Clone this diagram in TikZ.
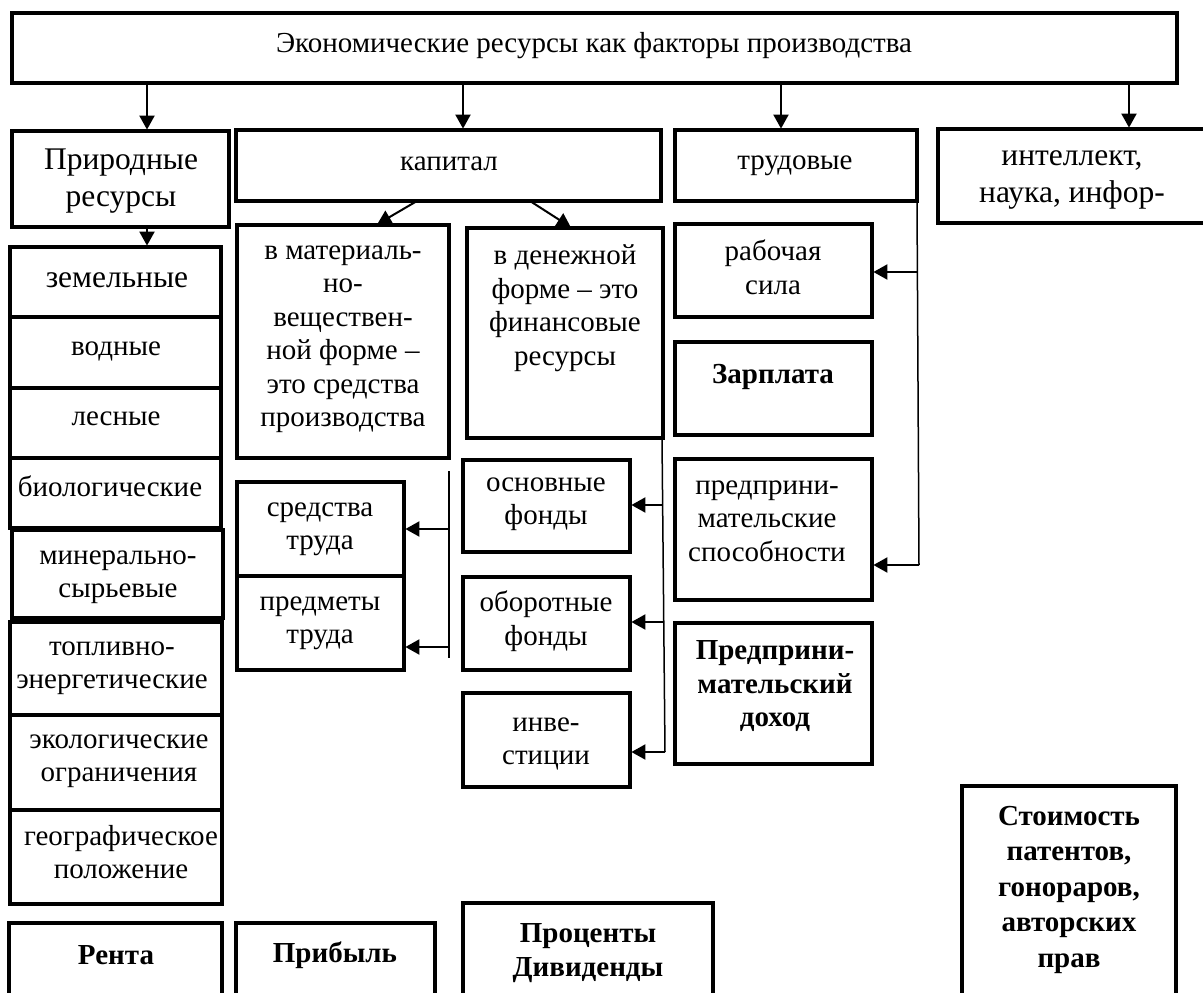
\documentclass[tikz,border=0pt]{standalone}
\usepackage{fontspec}
\setmainfont{Liberation Serif}
\usetikzlibrary{arrows.meta}
\newcommand\fa{\fontsize{29}{33.5}\selectfont}
\newcommand\fb{\fontsize{31.5}{37}\selectfont}
\newcommand\fc{\fontsize{29}{35.5}\selectfont}
\newcommand\brk{\\\strut}
\newcommand\bx[5]{\node[box, minimum width={#4-#2}, minimum height={#5-#3}] (#1) at ({(#2+#4)/2},{(#3+#5)/2}) {};}
\newcommand\tx[4][]{\node[txt,#1] (#2) at (#3) {#4};}
\tikzset{
  box/.style={draw, line width=3.8pt, inner sep=0pt, outer sep=0pt},
  txt/.style={align=center, font=\fa, inner sep=0pt, execute at begin node=\strut},
  bold/.style={font=\fa\bfseries},
  big/.style={font=\fb},
  arr/.style={line width=2pt, -{Triangle[length=14pt,width=15pt]}, shorten >=1.4pt},
  brl/.style={line width=1.5pt},
}
\begin{document}
\begin{tikzpicture}[x=1pt,y=-1pt]
\useasboundingbox (0,0) rectangle (1203,993);
\clip (0,0) rectangle (1203,993);
% boxes
\bx{title}{12}{13}{1177}{83}
\bx{prir}{12}{131}{229}{227}
\bx{kap}{236}{130}{661}{201}
\bx{trud}{675}{130}{917}{201}
\bx{intel}{938}{129}{1212}{223}
\bx{zem}{10}{247}{221}{317}
\bx{vod}{10}{317}{221}{388}
\bx{les}{10}{388}{221}{458}
\bx{bio}{10}{458}{221}{528}
\bx{min}{12}{530}{223}{618}
\bx{topl}{10}{622}{222}{715}
\bx{eco}{10}{715}{222}{810}
\bx{geo}{10}{810}{222}{904}
\bx{mat}{237}{225}{449}{458}
\bx{den}{467}{228}{663}{438}
\bx{rab}{675}{224}{872}{317}
\bx{zar}{675}{342}{872}{435}
\bx{spos}{675}{459}{872}{600}
\bx{pdoh}{675}{623}{872}{764}
\bx{sred}{237}{482}{404}{576}
\bx{pred}{237}{576}{404}{670}
\bx{osn}{463}{460}{630}{552}
\bx{obor}{463}{577}{630}{670}
\bx{inv}{463}{693}{630}{787}
\bx{renta}{9}{923}{222}{1010}
\bx{prib}{236}{923}{435}{1010}
\bx{proc}{463}{903}{713}{1010}
\bx{stoim}{962}{786}{1176}{1010}
% texts
\tx{title-t}{594,46}{Экономические ресурсы как факторы производства}
\tx[big]{prir-t}{121,183}{Природные\brk ресурсы}
\tx{kap-t}{449,164}{капитал}
\tx{trud-t}{795,163}{трудовые}
\tx[big]{intel-t}{1072,182}{интеллект,\brk наука, инфор-}
\tx[big]{zem-t}{117,280}{земельные}
\tx{vod-t}{116,349}{водные}
\tx{les-t}{116,419}{лесные}
\tx{bio-t}{110,490}{биологические}
\tx{min-t}{118,579}{минерально-\brk сырьевые}
\tx{topl-t}{112,670}{топливно-\brk энергетические}
\tx{eco-t}{119,763}{экологические\brk ограничения}
\tx{geo-t}{121,857}{географическое\brk положение}
\tx{mat-t}{343,341}{в материаль-\brk но-\brk веществен-\brk ной форме –\brk это средства\brk производства}
\tx{den-t}{565,310}{в денежной\brk форме – это\brk финансовые\brk ресурсы}
\tx{rab-t}{773,272}{рабочая\brk сила}
\tx[bold]{zar-t}{773,377}{Зарплата}
\tx{spos-t}{767,526}{предприни-\brk мательские\brk способности}
\tx[bold]{pdoh-t}{775,689}{Предприни-\brk мательский\brk доход}
\tx{sred-t}{320,531}{средства\brk труда}
\tx{pred-t}{320,625}{предметы\brk труда}
\tx{osn-t}{546,506}{основные\brk фонды}
\tx{obor-t}{546,623}{оборотные\brk фонды}
\tx{inv-t}{546,746}{инве-\brk стиции}
\tx[bold]{renta-t}{116,958}{Рента}
\tx[bold]{prib-t}{335,956}{Прибыль}
\tx[bold]{proc-t}{588,955}{Проценты\brk Дивиденды}
\tx[font=\fc\bfseries]{stoim-t}{1069,892}{Стоимость\brk патентов,\brk гонораров,\brk авторских\brk прав}
% connectors from the title
\draw[arr] (title.south -| 147,0) -- (prir.north -| 147,0);
\draw[arr] (title.south -| 463,0) -- (kap.north -| 463,0);
\draw[arr] (title.south -| 781,0) -- (trud.north -| 781,0);
\draw[arr] (title.south -| 1129,0) -- (intel.north -| 1129,0);
\draw[arr] (prir.south -| 147,0) -- (zem.north -| 147,0);
% capital split
\draw[arr] (kap.south -| 417,0) -- (mat.north -| 376,0);
\draw[arr] (kap.south -| 530,0) -- (den.north -| 572,0);
% labour bracket
\coordinate (tv1) at (917.4,272);
\coordinate (tv2) at (919,565);
\draw[brl] (trud.south east) -- (tv2);
\draw[arr] (tv1) -- (rab.east |- tv1);
\draw[arr] (tv2) -- (spos.east |- tv2);
% material bracket
\coordinate (mb0) at (449,471);
\coordinate (mb1) at (449,529);
\coordinate (mb2) at (449,647);
\coordinate (mb3) at (449,658);
\draw[brl] (mb0) -- (mb3);
\draw[arr] (mb1) -- (sred.east |- mb1);
\draw[arr] (mb2) -- (pred.east |- mb2);
% money bracket
\coordinate (dv0) at (662,438);
\coordinate (dv1) at (662.6,505);
\coordinate (dv2) at (663.7,622);
\coordinate (dv3) at (665,752);
\draw[brl] (dv0) -- (dv3);
\draw[arr] (dv1) -- (osn.east |- dv1);
\draw[arr] (dv2) -- (obor.east |- dv2);
\draw[arr] (dv3) -- (inv.east |- dv3);
\end{tikzpicture}
\end{document}
